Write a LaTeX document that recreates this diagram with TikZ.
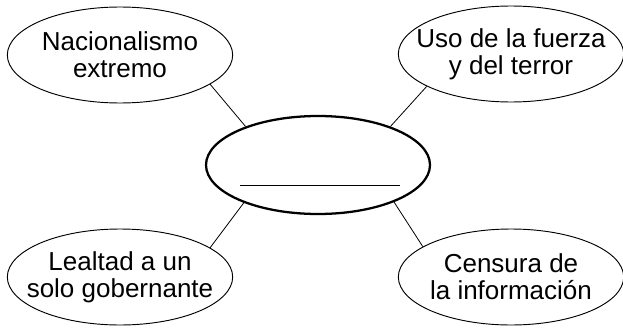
\documentclass[tikz,border=0pt]{standalone}
\usepackage{fontspec}
\setmainfont{Liberation Sans}
\usetikzlibrary{shapes.geometric}

\begin{document}
\begin{tikzpicture}[x=0.75pt,y=-0.75pt,
  idea/.style={draw,ellipse,line width=0.7pt,minimum width=169pt,minimum height=72pt,inner sep=0pt,
    label={[align=center,font=\fontsize{19.5}{20.5}\selectfont]center:#1}},
  hub/.style={draw,ellipse,line width=1.7pt,minimum width=168pt,minimum height=73.5pt,inner sep=0pt},
  link/.style={line width=0.6pt}]

        \useasboundingbox (0,0) rectangle (623,328);

        \node[hub] (hub) at (318,165) {};
        \draw[link] ([shift={(-78,20)}]hub.center) -- ([shift={(82,20)}]hub.center);

        \node[idea={Nacionalismo\\extremo}] (nac) at (120,55) {};
        \node[idea={Uso de la fuerza\\y del terror}] (uso) at (511,54) {};
        \node[idea={Lealtad a un\\solo gobernante}] (leal) at (120,277) {};
        \node[idea={Censura de\\la información}] (cens) at (511,277) {};

        \draw[link] (nac.-18) -- (hub.152);
        \draw[link] (uso.201) -- (hub.28);
        \draw[link] (leal.18) -- (hub.207);
        \draw[link] (cens.161) -- (hub.-26);
      \end{tikzpicture}
\end{document}
